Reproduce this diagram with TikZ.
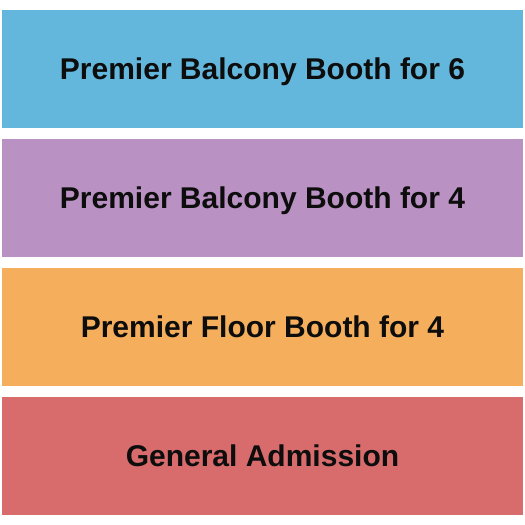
\documentclass[tikz,border=0pt]{standalone}
\usepackage{fontspec}
\setmainfont{Liberation Sans}
\definecolor{cblue}{RGB}{100,183,220}
\definecolor{cpurple}{RGB}{185,145,195}
\definecolor{corange}{RGB}{244,174,92}
\definecolor{cred}{RGB}{216,108,108}
\tikzset{
  zone/.style={draw=none, minimum width=521pt, minimum height=118pt, inner sep=0pt, outer sep=0pt,
    text height=21.5pt, text depth=0pt,
    font=\fontsize{30}{34}\selectfont\bfseries, text=black!95, anchor=north west}
}
\begin{document}
\begin{tikzpicture}[x=1pt,y=-1pt]
\useasboundingbox[fill=white] (0,0) rectangle (525,525);
\node[zone, fill=cblue] (z1) at (2,10) {Premier Balcony Booth for 6};
\node[zone, fill=cpurple] (z2) at (2,139) {Premier Balcony Booth for 4};
\node[zone, fill=corange] (z3) at (2,268) {Premier Floor Booth for 4};
\node[zone, fill=cred] (z4) at (2,397) {General Admission};
\end{tikzpicture}
\end{document}
